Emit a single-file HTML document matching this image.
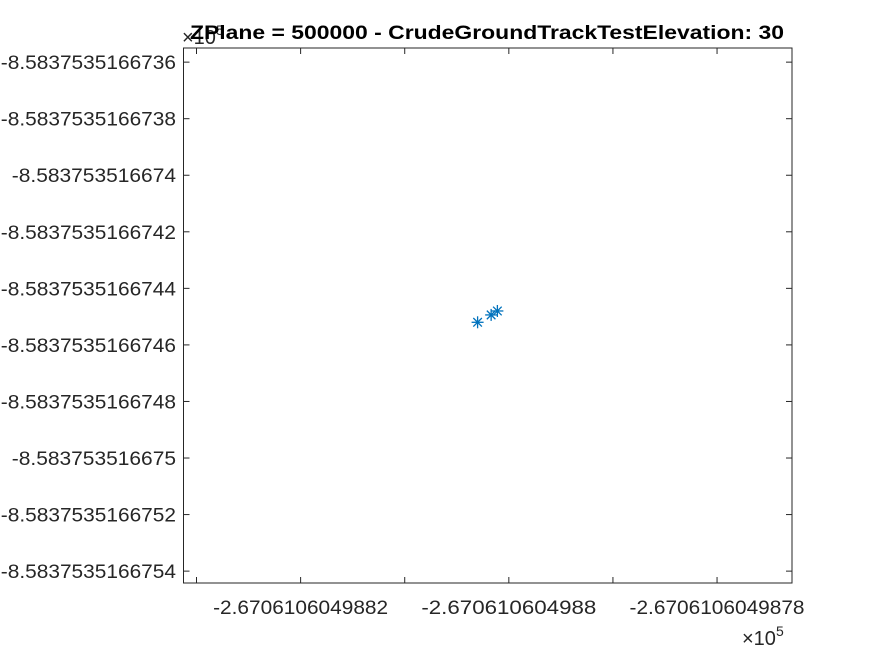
<!DOCTYPE html>
<html><head><meta charset="utf-8"><style>body{margin:0;background:#fff}svg{display:block;font-family:"Liberation Sans",Arial,sans-serif}</style></head>
<body>
<svg id="chart" width="875" height="656" viewBox="0 0 875 656" xmlns="http://www.w3.org/2000/svg">
<rect width="875" height="656" fill="#fff"/>
<text x="182" y="44" font-size="20" fill="#262626">×10<tspan dy="-9" font-size="14">5</tspan></text>
<text x="487" y="39" text-anchor="middle" font-size="19" font-weight="bold" fill="#000" textLength="594" lengthAdjust="spacingAndGlyphs">ZPlane = 500000 - CrudeGroundTrackTestElevation: 30</text>
<text x="742" y="645" font-size="20" fill="#262626">×10<tspan dy="-9" font-size="14">5</tspan></text>
<g id="axes"></g>
<g id="marks"></g>
</svg>
<script>
// values in tick-index units (tick i corresponds to label i)
const yTickLabels = ["-8.5837535166736","-8.5837535166738","-8.583753516674","-8.5837535166742","-8.5837535166744","-8.5837535166746","-8.5837535166748","-8.583753516675","-8.5837535166752","-8.5837535166754"];
const xTickValues = [0,1,2,3,4,5];
const xTickLabels = ["","-2.6706106049882","","-2.670610604988","","-2.6706106049878"];
const xValues = [2.70, 2.83, 2.89];
const yValues = [4.60, 4.47, 4.40];

const L=183.5,R=792,T=48,B=583;
const xDom=[-0.125,5.72], yDom=[-0.25,9.21];
const sx=v=>L+(v-xDom[0])/(xDom[1]-xDom[0])*(R-L);
const sy=v=>T+(v-yDom[0])/(yDom[1]-yDom[0])*(B-T);
const NS="http://www.w3.org/2000/svg";
const ax=document.getElementById('axes'), mk=document.getElementById('marks');
function el(t,a,p){const e=document.createElementNS(NS,t);for(const k in a)e.setAttribute(k,a[k]);p.appendChild(e);return e;}
const box=el('rect',{x:L,y:T,width:R-L,height:B-T,fill:'none',stroke:'#262626','stroke-width':1},ax);


xTickValues.forEach((v,i)=>{
  const x=sx(v);
  const t1=el('line',{x1:x,x2:x,y1:B,y2:B-6,stroke:'#262626'},ax);
  
  
  el('line',{x1:x,x2:x,y1:T,y2:T+6,stroke:'#262626'},ax);
  if(xTickLabels[i]){
    const tx=el('text',{x:x,y:B+31,'text-anchor':'middle','font-size':'19',fill:'#262626',textLength:175,lengthAdjust:'spacingAndGlyphs'},ax);
    tx.textContent=xTickLabels[i];
    
    
  }
});
yTickLabels.forEach((lab,i)=>{
  const y=sy(i);
  const t1=el('line',{x1:L,x2:L+6,y1:y,y2:y,stroke:'#262626'},ax);
  
  
  el('line',{x1:R,x2:R-6,y1:y,y2:y,stroke:'#262626'},ax);
  const w=lab.length*10.95;
  const tx=el('text',{x:176,y:y+7,'text-anchor':'end','font-size':'19',fill:'#262626',textLength:w,lengthAdjust:'spacingAndGlyphs'},ax);
  tx.textContent=lab;
  
  
});
xValues.forEach((xv,i)=>{
  const cx=sx(xv), cy=sy(yValues[i]), r=6;
  const g=el('g',{stroke:'#0072bd','stroke-width':1.3},mk);
  
  
  el('line',{x1:cx-r,x2:cx+r,y1:cy,y2:cy},g);
  el('line',{x1:cx,x2:cx,y1:cy-r,y2:cy+r},g);
  el('line',{x1:cx-4.3,x2:cx+4.3,y1:cy-4.3,y2:cy+4.3},g);
  el('line',{x1:cx-4.3,x2:cx+4.3,y1:cy+4.3,y2:cy-4.3},g);
});
</script>
</body></html>
